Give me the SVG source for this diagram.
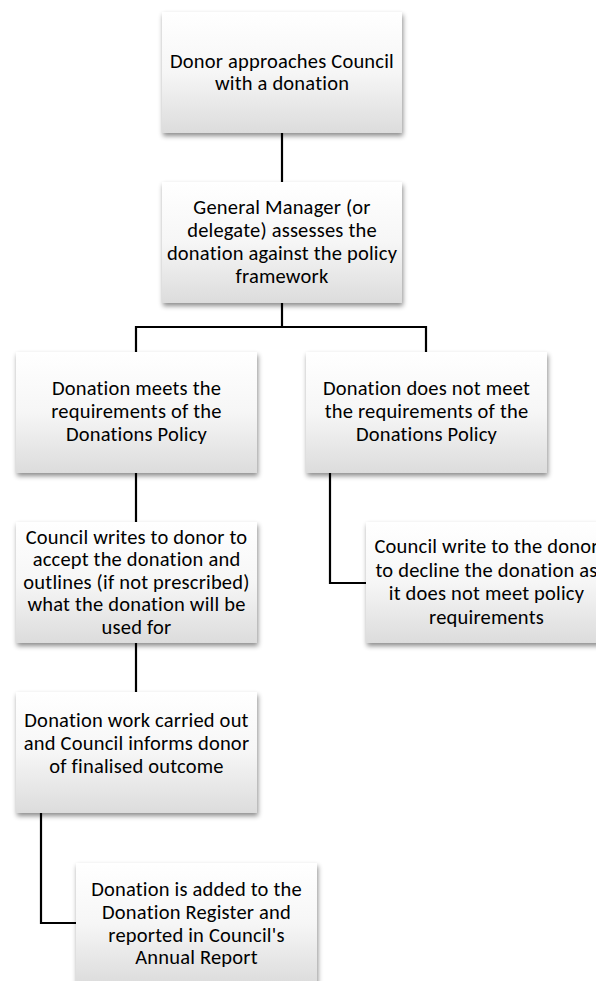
<svg xmlns="http://www.w3.org/2000/svg" width="596" height="981" viewBox="0 0 596 981">
  <style>
    .box { fill: url(#grad); filter: url(#shadow); }
    .lbl { font-family: Carlito, Lato, "Liberation Sans", sans-serif; font-size: 20.5px; letter-spacing: 0.2px; fill: #000; text-anchor: middle; }
    .conn { fill: none; stroke: #000; stroke-width: 2.2; }
  </style>
  <defs>
    <linearGradient id="grad" x1="0" y1="0" x2="0" y2="1">
      <stop offset="0" stop-color="#ffffff"/>
      <stop offset="0.5" stop-color="#f6f6f6"/>
      <stop offset="1" stop-color="#dcdcdc"/>
    </linearGradient>
    <filter id="shadow" x="-10%" y="-10%" width="125%" height="130%">
      <feDropShadow dx="1" dy="3" stdDeviation="2.5" flood-color="#000" flood-opacity="0.45"/>
    </filter>
  </defs>
  <rect width="596" height="981" fill="#ffffff"/>
  <g id="connectors">
    <path class="conn" d="M282 133 V182"/>
    <path class="conn" d="M282 303 V327 M136 352 V327 H426 V352"/>
    <path class="conn" d="M136 473 V522"/>
    <path class="conn" d="M330 473 V583 H366"/>
    <path class="conn" d="M136 643 V692"/>
    <path class="conn" d="M41 813 V923 H76"/>
  </g>
  <g id="n1">
    <rect class="box" x="162" y="12" width="240" height="121"/>
    <text class="lbl"><tspan x="282" y="68">Donor approaches Council</tspan><tspan x="282" y="90">with a donation</tspan></text>
  </g>
  <g id="n2">
    <rect class="box" x="162" y="182" width="240" height="121"/>
    <text class="lbl"><tspan x="282" y="214">General Manager (or</tspan><tspan x="282" y="237">delegate) assesses the</tspan><tspan x="282" y="260">donation against the policy</tspan><tspan x="282" y="283">framework</tspan></text>
  </g>
  <g id="n3">
    <rect class="box" x="16" y="352" width="241" height="121"/>
    <text class="lbl"><tspan x="136.5" y="395">Donation meets the</tspan><tspan x="136.5" y="418">requirements of the</tspan><tspan x="136.5" y="441">Donations Policy</tspan></text>
  </g>
  <g id="n4">
    <rect class="box" x="306" y="352" width="241" height="121"/>
    <text class="lbl"><tspan x="426.5" y="395">Donation does not meet</tspan><tspan x="426.5" y="418">the requirements of the</tspan><tspan x="426.5" y="441">Donations Policy</tspan></text>
  </g>
  <g id="n5">
    <rect class="box" x="16" y="522" width="241" height="121"/>
    <text class="lbl"><tspan x="136.5" y="544">Council writes to donor to</tspan><tspan x="136.5" y="566">accept the donation and</tspan><tspan x="136.5" y="589">outlines (if not prescribed)</tspan><tspan x="136.5" y="611">what the donation will be</tspan><tspan x="136.5" y="634">used for</tspan></text>
  </g>
  <g id="n6">
    <rect class="box" x="366" y="522" width="241" height="121"/>
    <text class="lbl"><tspan x="486.5" y="553">Council write to the donor</tspan><tspan x="486.5" y="577">to decline the donation as</tspan><tspan x="486.5" y="600">it does not meet policy</tspan><tspan x="486.5" y="624">requirements</tspan></text>
  </g>
  <g id="n7">
    <rect class="box" x="16" y="692" width="241" height="121"/>
    <text class="lbl"><tspan x="136.5" y="727">Donation work carried out</tspan><tspan x="136.5" y="750">and Council informs donor</tspan><tspan x="136.5" y="773">of finalised outcome</tspan></text>
  </g>
  <g id="n8">
    <rect class="box" x="76" y="863" width="241" height="121"/>
    <text class="lbl"><tspan x="196.5" y="896">Donation is added to the</tspan><tspan x="196.5" y="919">Donation Register and</tspan><tspan x="196.5" y="942">reported in Council's</tspan><tspan x="196.5" y="964">Annual Report</tspan></text>
  </g>
</svg>
